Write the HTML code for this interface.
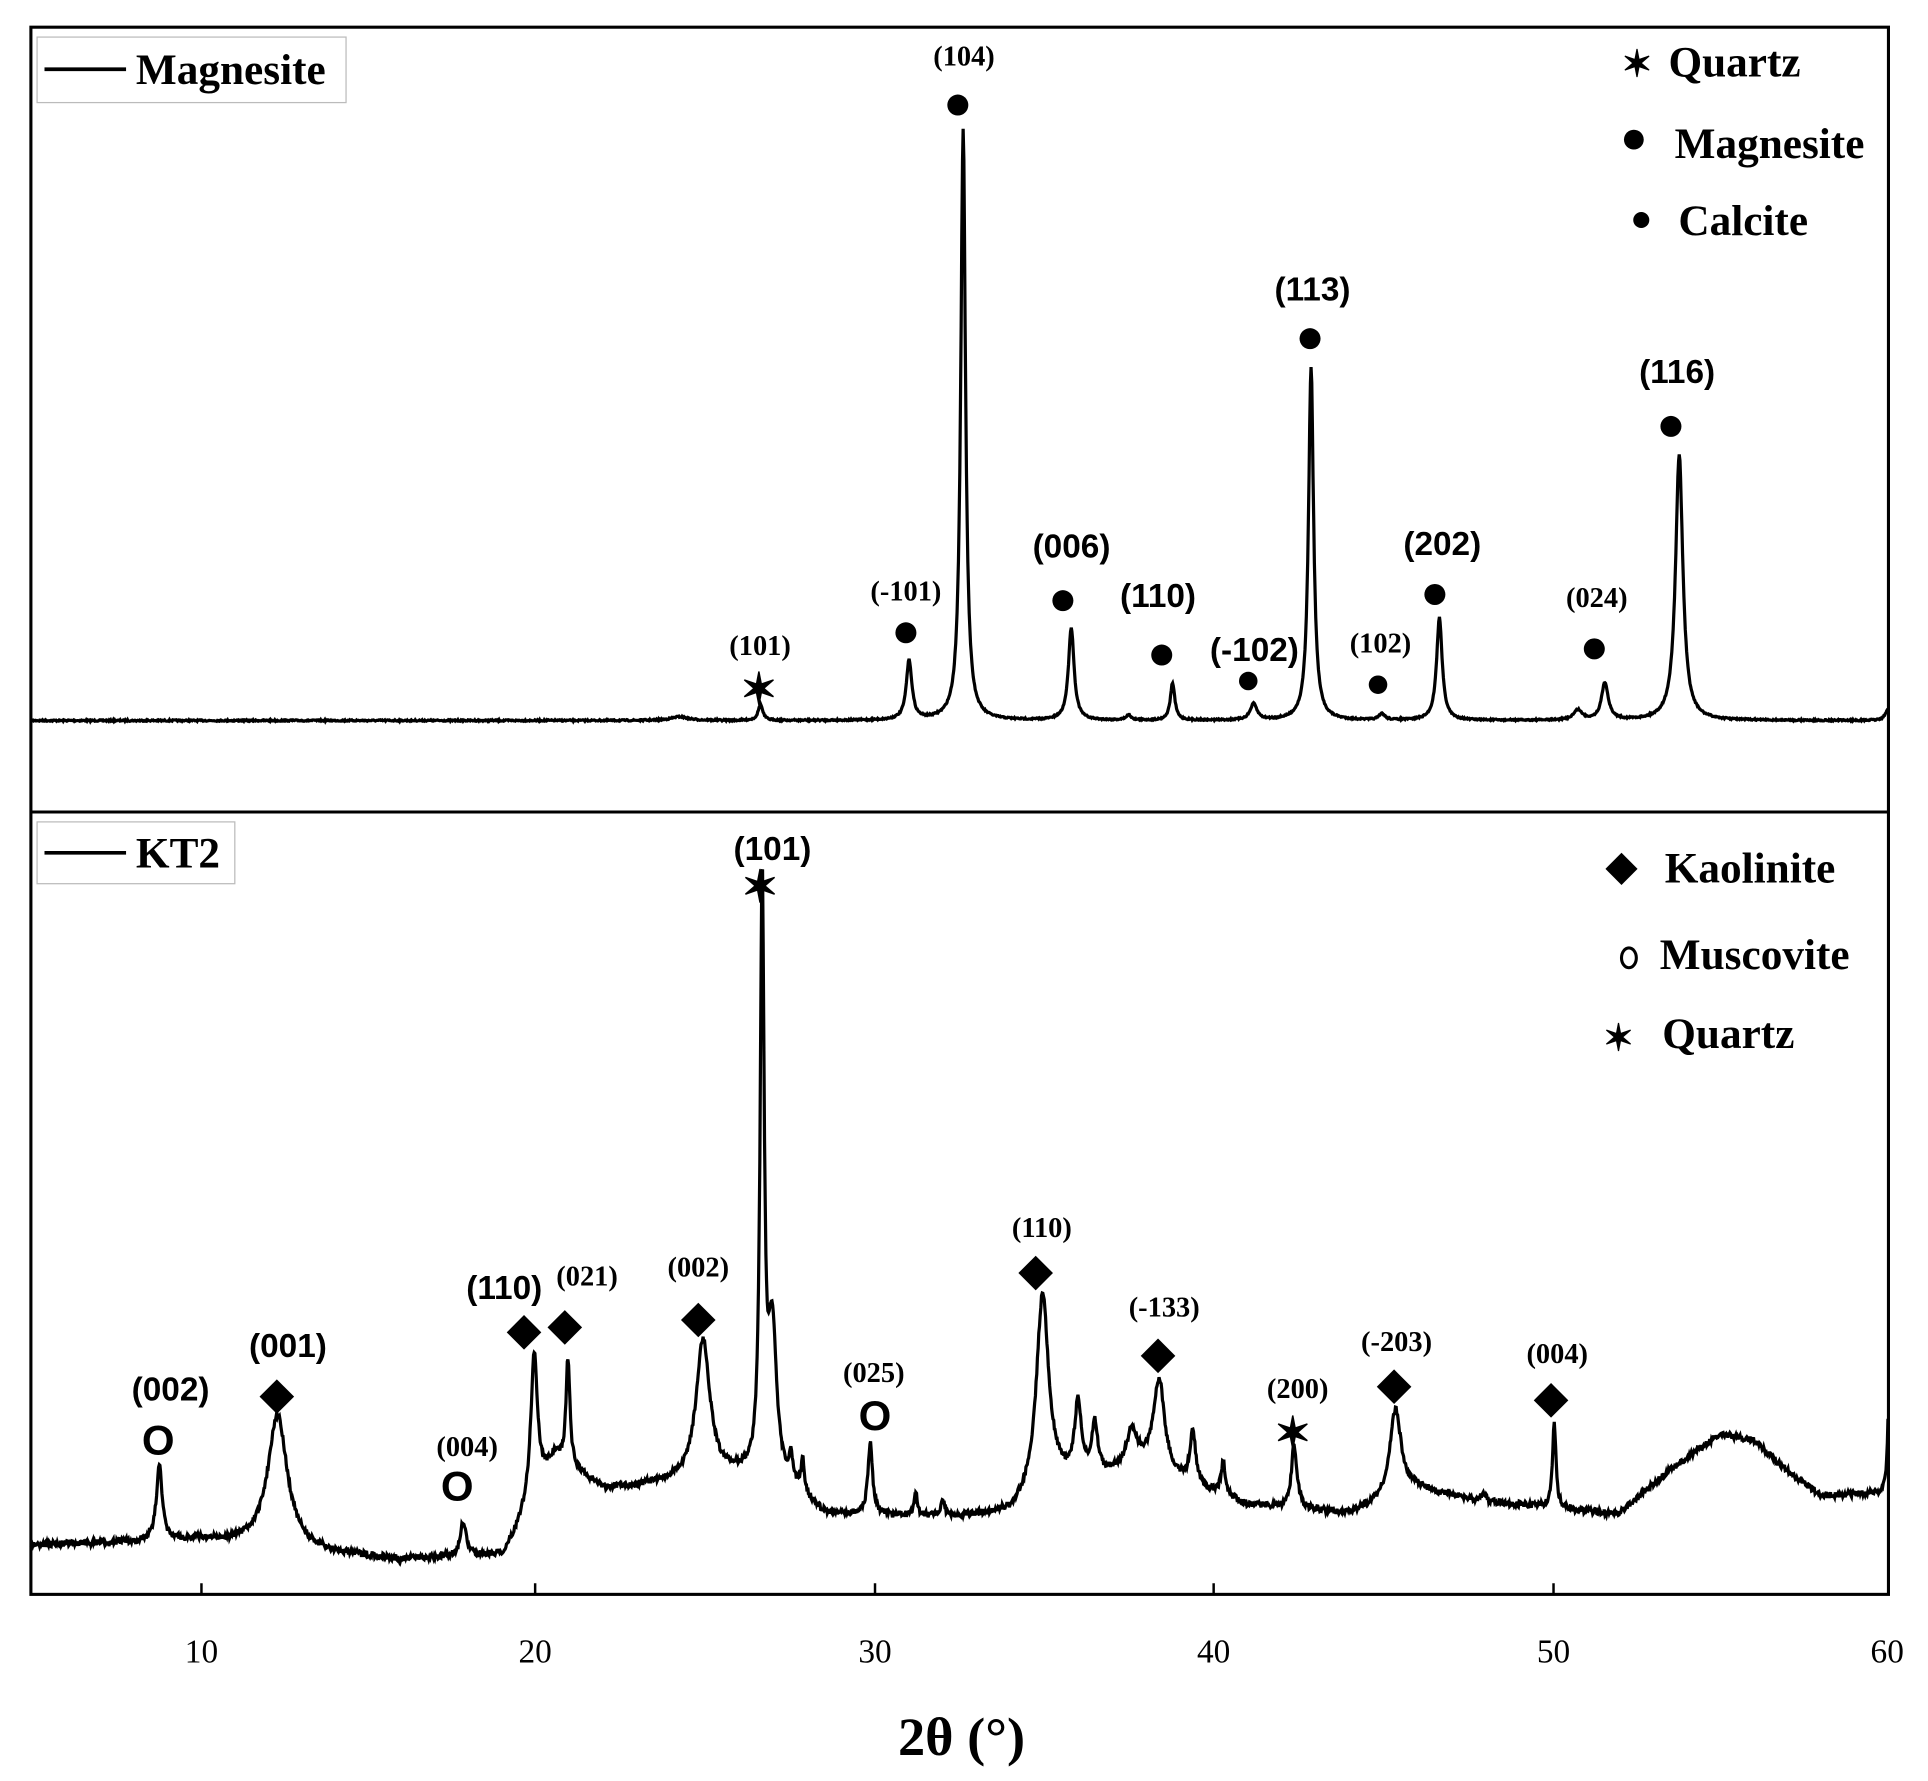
<!DOCTYPE html>
<html><head><meta charset="utf-8"><style>
html,body{margin:0;padding:0;background:#fff;width:1928px;height:1781px;overflow:hidden}
svg{display:block}
text{font-family:"Liberation Serif",serif;fill:#000}
.l{font-size:23px;font-weight:bold;text-anchor:middle}
.L{font-size:27px;font-weight:bold;text-anchor:middle;font-family:"Liberation Sans",sans-serif}
.g{font-size:35px;font-weight:bold}
.t{font-size:27px;text-anchor:middle}
</style></head><body>
<svg id="s" width="1928" height="1781" viewBox="0 0 1560 1441" preserveAspectRatio="none">
<rect x="25" y="22" width="1503" height="1268" fill="none" stroke="#000" stroke-width="2.5"/>
<line x1="25" y1="657" x2="1528" y2="657" stroke="#000" stroke-width="2.5"/>
<g stroke="#000" stroke-width="2">
<line x1="163" y1="1290" x2="163" y2="1281"/><line x1="433" y1="1290" x2="433" y2="1281"/><line x1="708" y1="1290" x2="708" y2="1281"/><line x1="982" y1="1290" x2="982" y2="1281"/><line x1="1257" y1="1290" x2="1257" y2="1281"/>
</g>
<text class="t" x="163" y="1345">10</text><text class="t" x="433" y="1345">20</text><text class="t" x="708" y="1345">30</text><text class="t" x="982" y="1345">40</text><text class="t" x="1257" y="1345">50</text><text class="t" x="1527" y="1345">60</text>
<text x="778" y="1420" style="font-size:44px;font-weight:bold;text-anchor:middle">2θ (°)</text>
<path id="p1" fill="none" stroke="#000" stroke-width="2.6"/>
<path id="p2" fill="none" stroke="#000" stroke-width="2.6"/>
<!-- legends -->
<rect x="30" y="30" width="250" height="53" fill="#fff" stroke="#bbb"/>
<line x1="36" y1="56" x2="102" y2="56" stroke="#000" stroke-width="3"/>
<text class="g" x="110" y="68">Magnesite</text>
<rect x="30" y="665" width="160" height="50" fill="#fff" stroke="#bbb"/>
<line x1="36" y1="690" x2="102" y2="690" stroke="#000" stroke-width="3"/>
<text class="g" x="110" y="702">KT2</text>
<text class="g" x="1312" y="62" style="font-size:30px">✶</text><text class="g" x="1350" y="62">Quartz</text>
<circle cx="1322" cy="113" r="8"/><text class="g" x="1355" y="128">Magnesite</text>
<circle cx="1328" cy="178" r="6.5"/><text class="g" x="1358" y="190">Calcite</text>
<path d="M1312 690 l13 13 l-13 13 l-13 -13z"/><text class="g" x="1347" y="714">Kaolinite</text>
<ellipse cx="1318" cy="775" rx="6" ry="8" fill="none" stroke="#000" stroke-width="2.5"/><text class="g" x="1343" y="784">Muscovite</text>
<text class="g" x="1297" y="850" style="font-size:30px">✶</text><text class="g" x="1345" y="848">Quartz</text>
<g id="m"></g>
</svg>
<script>
var X=function(t){return 25+(t-5)*27.33;};
function lor(t,t0,h,w){var d=(t-t0)/w;return h/(1+d*d);}
var seed=7;function rnd(){seed=(seed*16807)%2147483647;return seed/2147483647-0.5;}
// top
var P1=[[26.6,13,.08],[31.0,48,.1],[32.6,478,.085],[35.8,75,.1],[38.8,30,.08],[41.2,13,.12],[42.9,286,.09],[45.0,5,.1],[46.7,83,.1],[50.8,8,.15],[51.6,30,.12],[53.8,215,.13],[60,10,.1],[24.2,3,.3],[37.5,4,.1]];
var d="";for(var t=5;t<=60;t+=0.02){var y=583;for(var i=0;i<P1.length;i++)y-=lor(t,P1[i][0],P1[i][1],P1[i][2]);y+=rnd()*1.2;d+=(d?"L":"M")+X(t).toFixed(1)+" "+y.toFixed(1);}
document.getElementById("p1").setAttribute("d",d);
// bottom
var B=[[5,1250],[8,1248],[10,1246],[14,1258],[16,1262],[19,1258],[20.5,1180],[22,1205],[24,1200],[26,1195],[27.5,1205],[28.5,1225],[32,1228],[34,1225],[35.5,1200],[38,1190],[41,1218],[44,1225],[46,1205],[48,1215],[52,1225],[53.5,1190],[55,1160],[56,1165],[57,1190],[58,1210],[59.8,1208],[60,1208]];
function bg(t){for(var i=0;i<B.length-1;i++){if(t>=B[i][0]&&t<=B[i+1][0]){var f=(t-B[i][0])/(B[i+1][0]-B[i][0]);return B[i][1]+f*(B[i+1][1]-B[i][1]);}}return 1208;}
var P2=[[8.8,1185,.1],[12.3,1145,.35],[17.8,1232,.1],[19.9,1095,.12],[20.9,1100,.07],[24.9,1085,.25],[26.65,720,.07],[26.95,1080,.15],[27.5,1185,.06],[27.85,1185,.06],[29.85,1168,.08],[31.2,1210,.06],[32,1215,.06],[34.95,1048,.22],[36,1140,.12],[36.5,1155,.1],[37.6,1160,.2],[38.4,1118,.2],[39.4,1160,.1],[40.3,1185,.08],[42.4,1170,.1],[45.4,1140,.2],[48,1208,.08],[50.1,1150,.06],[60,1140,.05]];
d="";for(var t=5;t<=60;t+=0.02){var y=bg(t);for(var i=0;i<P2.length;i++){var h=bg(P2[i][0])-P2[i][1];y-=lor(t,P2[i][0],h,P2[i][2]);}y+=rnd()*5;d+=(d?"L":"M")+X(t).toFixed(1)+" "+y.toFixed(1);}
document.getElementById("p2").setAttribute("d",d);
// markers and labels
var ns="http://www.w3.org/2000/svg",g=document.getElementById("m");
function el(n,a,txt){var e=document.createElementNS(ns,n);for(var k in a)e.setAttribute(k,a[k]);if(txt)e.textContent=txt;g.appendChild(e);}
function dot(x,y,r){el("circle",{cx:x,cy:y,r:r||8.5});}
function dia(x,y){el("path",{d:"M"+x+" "+(y-14)+" l14 14 l-14 14 l-14 -14z"});}
function star(x,y){el("text",{x:x,y:y+12,style:"font-size:36px;font-weight:bold;text-anchor:middle"},"✶");}
function oo(x,y){el("text",{x:x,y:y+12,style:"font-size:34px;font-weight:bold;text-anchor:middle;font-family:'Liberation Sans',sans-serif"},"O");}
function lab(x,y,s,big){el("text",{x:x,y:y+8,"class":big?"L":"l"},s);}
star(614,558);lab(615,522,"(101)");
dot(733,512);lab(733,478,"(-101)");
dot(775,85);lab(780,45,"(104)");
dot(860,486);lab(867,443,"(006)",1);
dot(940,530);lab(937,483,"(110)",1);
dot(1010,551,7.5);lab(1015,527,"(-102)",1);
dot(1060,274);lab(1062,235,"(113)",1);
dot(1115,554,7.5);lab(1117,520,"(102)");
dot(1161,481);lab(1167,441,"(202)",1);
dot(1290,525);lab(1292,483,"(024)");
dot(1352,345);lab(1357,302,"(116)",1);
oo(128,1165);lab(138,1125,"(002)",1);
dia(224,1130);lab(233,1090,"(001)",1);
oo(370,1202);lab(378,1170,"(004)");
dia(424,1078);lab(408,1043,"(110)",1);
dia(457,1074);lab(475,1032,"(021)");
dia(565,1068);lab(565,1025,"(002)");
star(615,718);lab(625,688,"(101)",1);
oo(708,1145);lab(707,1110,"(025)");
dia(838,1030);lab(843,993,"(110)");
dia(937,1097);lab(942,1057,"(-133)");
star(1046,1160);lab(1050,1123,"(200)");
dia(1128,1122);lab(1130,1085,"(-203)");
dia(1255,1133);lab(1260,1095,"(004)");
</script>
</body></html>
